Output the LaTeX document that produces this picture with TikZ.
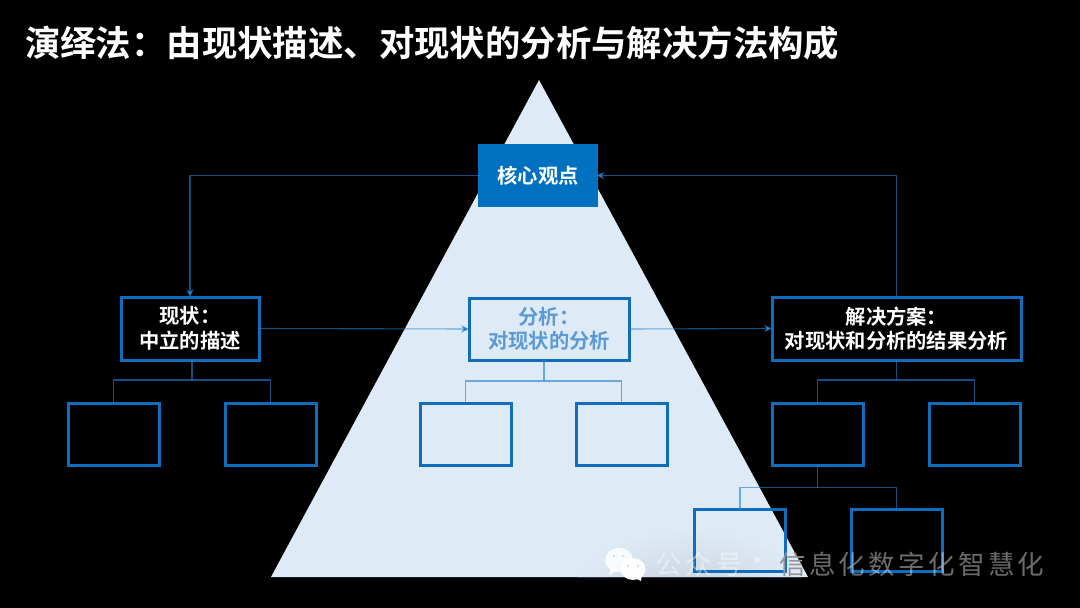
\documentclass[tikz,border=0pt]{standalone}
\usepackage{fontspec}
\setmainfont{Noto Sans CJK SC}
\newfontfamily\cjkb{Noto Sans CJK SC Bold}
\usetikzlibrary{arrows.meta,calc}
\definecolor{tri}{HTML}{DEEAF6}
\definecolor{triedge}{HTML}{C9D3DE}
\definecolor{edgeblue}{HTML}{0F6DBB}
\definecolor{corefill}{HTML}{0070C0}
\definecolor{wirec}{HTML}{2080D0}
\definecolor{anatext}{HTML}{5B9BD5}
\tikzset{
  box/.style={draw=edgeblue,line width=3pt,inner sep=0pt,outer sep=0pt,align=center,font=\fontsize{20.3}{24.5}\selectfont\cjkb,text=white},
  small/.style={box,minimum width=91pt,minimum height=62pt},
  wire/.style={draw=wirec,draw opacity=0.62,line width=1.1pt},
  arrowed/.style={wire,-{Stealth[length=8pt,width=7.5pt]}},
  bubble/.style={fill=white,fill opacity=0.82},
  eye/.style={fill=black,fill opacity=0.12},
  wmark/.style={inner sep=0pt,text=white,text opacity=0.42,font=\fontsize{26.5}{30}\selectfont},
}
\begin{document}
\begin{tikzpicture}[x=1pt,y=-1pt]
\useasboundingbox (0,0) rectangle (1080,608);
\fill[black] (0,0) rectangle (1080,608);
\fill[tri] (539,80) -- (808,577) -- (271,577) -- cycle;
\begin{scope}
\clip (539,80) -- (808,577) -- (271,577) -- cycle;
\shade[inner color=triedge,outer color=tri] (690,590) ellipse (115 and 60);
\end{scope}
\node[anchor=west,text=white,font=\fontsize{35.4}{40}\selectfont\cjkb,inner sep=0pt] (title) at (25,43.5) {演绎法：由现状描述、对现状的分析与解决方法构成};

\node[box,draw=corefill,fill=corefill,minimum width=117pt,minimum height=60pt] (core) at (538,175.5) {核心观点};
\node[box,minimum width=138pt,minimum height=63pt] (cur) at (190,328.5) {现状：\\中立的描述};
\node[box,text=anatext,minimum width=160pt,minimum height=62pt] (ana) at (549,329) {分析：\\对现状的分析};
\node[box,minimum width=249pt,minimum height=63pt] (sol) at (896.5,328.5) {解决方案：\\对现状和分析的结果分析};

\node[small] (c1) at (113.5,434) {};
\node[small] (c2) at (270.5,434) {};
\node[small] (a1) at (465.5,434) {};
\node[small] (a2) at (621.5,434) {};
\node[small] (s1) at (817.5,434) {};
\node[small] (s2) at (974.5,434) {};
\node[small] (s3) at (740,540.5) {};
\node[small] (s4) at (896.5,540) {};

\draw[arrowed] (core.west) -| (cur.north);
\draw[arrowed] (sol.north) |- (core.east);
\draw[arrowed] (cur.east) -- (ana.west);
\draw[arrowed] (ana.east) -- (sol.west);

\coordinate (cb) at ([xshift=2pt]cur.south);
\coordinate (ab) at ([xshift=-5pt]ana.south);
\draw[wire] (cb) -- ++(0,20) coordinate (cj);
\draw[wire] (c1.north) |- (cj) -| (c2.north);
\draw[wire] (ab) -- ++(0,21) coordinate (aj);
\draw[wire] (a1.north) |- (aj) -| (a2.north);
\draw[wire] (sol.south) -- ++(0,20) coordinate (sj);
\draw[wire] (s1.north) |- (sj) -| (s2.north);
\draw[wire] (s1.south) -- ++(0,22.5) coordinate (tj);
\draw[wire] (s3.north) |- (tj) -| (s4.north);

% watermark
\fill[bubble] (619,560) ellipse (14 and 12);
\fill[bubble] (609,575) -- (611,566) -- (617,571) -- cycle;
\fill[eye] (614,556) circle (1.4);
\fill[eye] (623,556) circle (1.4);
\fill[white,fill opacity=0.95] (633,569) ellipse (12.5 and 11);
\fill[white,fill opacity=0.95] (641,581) -- (635,578) -- (642,574) -- cycle;
\fill[eye] (628,566) circle (1.4);
\fill[eye] (638,566) circle (1.4);
\node[wmark,anchor=west] (wm1) at (655,564.5) {公\hspace{4pt}众\hspace{4pt}号};
\node[wmark,anchor=center] (wm2) at (758,564.5) {·};
\node[wmark,anchor=west,text=black!42,text opacity=1] (wm3) at (779,564.5) {信};
\node[wmark,anchor=west] (wm4) at (809,564.5) {息\hspace{3.3pt}化\hspace{3.3pt}数\hspace{3.3pt}字\hspace{3.3pt}化\hspace{3.3pt}智\hspace{3.3pt}慧\hspace{3.3pt}化};
\end{tikzpicture}
\end{document}
